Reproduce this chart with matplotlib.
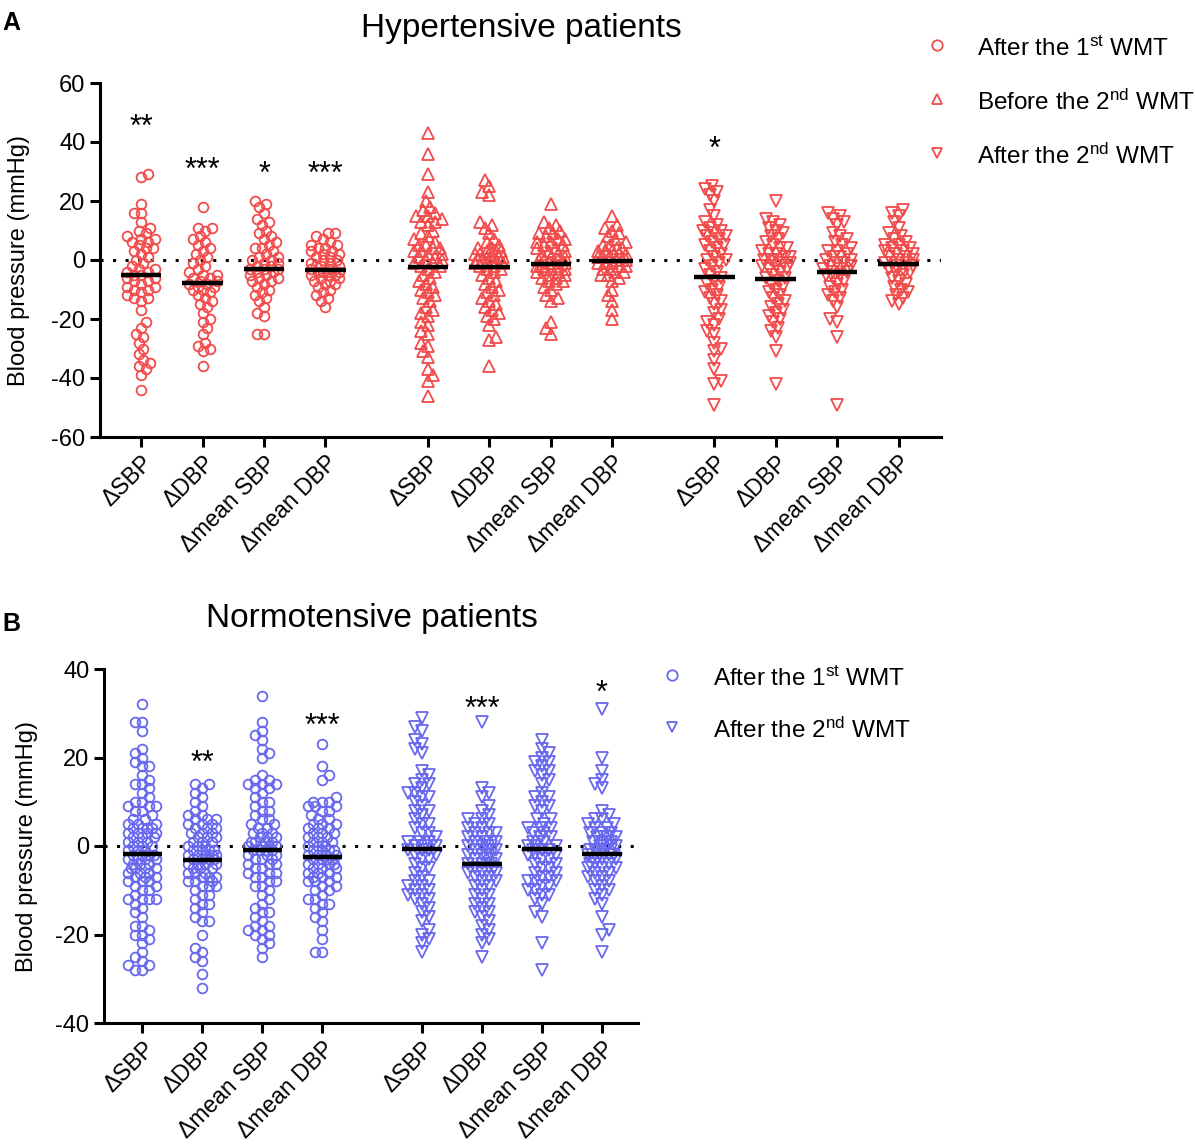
import numpy as np
import matplotlib
matplotlib.use("Agg")
from matplotlib import pyplot as plt
from matplotlib.lines import Line2D

plt.rcParams['font.family'] = ['Liberation Sans', 'DejaVu Sans']
plt.rcParams['mathtext.fontset'] = 'custom'
plt.rcParams['mathtext.rm'] = 'Liberation Sans'
plt.rcParams['mathtext.it'] = 'Liberation Sans:italic'
plt.rcParams['axes.unicode_minus'] = False

RED = '#F24B4B'
BLUE = '#6868EE'

tick_names = ["ΔSBP", "ΔDBP", "Δmean SBP", "Δmean DBP"]

# ---- panel A : hypertensive patients ----
hyp_after1 = [
    [29, 28, 19, 16, 16, 13, 11, 10, 9, 8, 7, 7, 6, 6, 5, 4, 4, 3, 2, 1, 0, -1, -2, -3, -3, -4, -4, -5, -5,
     -6, -6, -7, -7, -8, -9, -9, -10, -10, -11, -12, -13, -13, -14, -17, -21, -23, -25, -26, -28, -30, -32,
     -34, -35, -36, -37, -39, -44],
    [18, 11, 11, 10, 8, 7, 6, 5, 4, 3, 2, 1, 0, -1, -2, -3, -4, -5, -5, -6, -6, -7, -7, -8, -8, -9, -9, -10,
     -10, -11, -12, -13, -14, -15, -16, -18, -20, -21, -23, -25, -28, -29, -30, -31, -36],
    [20, 19, 18, 16, 14, 13, 12, 10, 9, 8, 7, 6, 5, 4, 4, 3, 2, 1, 1, 0, 0, -1, -1, -2, -2, -3, -3, -3, -4,
     -4, -5, -5, -6, -6, -7, -7, -8, -9, -10, -11, -12, -13, -14, -16, -18, -19, -25, -25],
    [9, 9, 8, 7, 6, 5, 5, 4, 4, 3, 3, 2, 2, 1, 1, 0, 0, -1, -1, -2, -2, -2, -3, -3, -3, -4, -4, -4, -5, -5,
     -5, -6, -6, -7, -7, -8, -8, -9, -10, -11, -12, -13, -14, -16],
]
hyp_before2 = [
    [43, 36, 29, 23, 20, 18, 17, 16, 15, 15, 14, 13, 13, 12, 10, 9, 8, 7, 6, 5, 5, 4, 4, 3, 3, 2, 2, 1, 1,
     0, 0, -1, -1, -2, -2, -3, -4, -5, -6, -7, -8, -9, -10, -11, -12, -13, -14, -16, -17, -18, -19, -21,
     -22, -24, -25, -28, -29, -31, -33, -37, -39, -41, -46],
    [27, 25, 23, 22, 13, 12, 11, 9, 7, 6, 5, 4, 4, 3, 3, 3, 2, 2, 2, 1, 1, 1, 0, 0, 0, 0, -1, -1, -1, -2,
     -2, -3, -3, -4, -5, -6, -7, -8, -9, -10, -11, -12, -13, -14, -15, -16, -17, -18, -19, -20, -22, -26,
     -27, -36],
    [19, 13, 12, 11, 10, 9, 9, 8, 7, 7, 6, 6, 5, 5, 4, 4, 3, 3, 2, 2, 1, 1, 0, 0, 0, -1, -1, -1, -2, -2,
     -2, -3, -3, -3, -4, -4, -5, -5, -6, -6, -7, -7, -8, -9, -10, -12, -13, -14, -21, -23, -25],
    [15, 12, 11, 10, 9, 8, 7, 6, 5, 5, 4, 4, 3, 3, 3, 2, 2, 1, 1, 1, 0, 0, 0, -1, -1, -1, -2, -2, -3, -3,
     -4, -4, -5, -5, -6, -7, -10, -12, -14, -17, -20],
]
hyp_after2 = [
    [25, 24, 23, 22, 20, 17, 15, 13, 12, 11, 10, 10, 9, 8, 8, 7, 6, 5, 5, 4, 3, 2, 1, 0, 0, -1, -2, -3, -4,
     -5, -6, -7, -8, -9, -10, -11, -12, -13, -14, -15, -17, -18, -20, -21, -22, -24, -25, -28, -30, -31,
     -34, -37, -41, -42, -49],
    [20, 14, 13, 12, 11, 10, 9, 8, 7, 6, 5, 4, 4, 3, 2, 2, 1, 1, 0, 0, 0, -1, -1, -2, -2, -3, -3, -4, -5,
     -6, -6, -7, -8, -9, -10, -11, -12, -13, -14, -15, -16, -17, -18, -19, -20, -21, -23, -24, -26, -31,
     -42],
    [16, 15, 14, 13, 12, 9, 8, 7, 6, 5, 4, 3, 3, 2, 1, 1, 0, 0, -1, -1, -2, -2, -3, -3, -4, -4, -5, -5, -6,
     -7, -8, -9, -10, -11, -12, -13, -14, -16, -20, -21, -26, -49],
    [17, 16, 15, 13, 11, 9, 8, 7, 6, 5, 5, 4, 4, 3, 3, 2, 2, 1, 1, 0, 0, -1, -1, -1, -2, -2, -3, -3, -4,
     -4, -5, -6, -7, -8, -9, -10, -11, -12, -13, -14, -15],
]
hyp_medians = [-5.2, -7.9, -2.9, -3.4, -2.4, -2.5, -1.2, -0.3, -5.6, -6.3, -4.1, -1.2]
hyp_stars = ["**", "***", "*", "***", "", "", "", "", "*", "", "", ""]
hyp_star_y = [44.8, 30.3, 28.8, 28.8, 0, 0, 0, 0, 37.3, 0, 0, 0]

# ---- panel B : normotensive patients ----
nor_after1 = [
    [32, 28, 28, 26, 22, 21, 20, 19, 18, 18, 16, 15, 14, 14, 13, 12, 11, 10, 10, 9, 9, 9, 8, 8, 7, 6, 6, 5,
     5, 5, 4, 4, 4, 4, 3, 3, 3, 3, 2, 2, 2, 1, 1, 1, 0, 0, 0, -1, -1, -1, -2, -2, -2, -2, -3, -3, -3, -3,
     -4, -4, -4, -5, -5, -5, -5, -6, -6, -6, -7, -7, -7, -8, -8, -8, -9, -9, -10, -10, -11, -12, -12, -12,
     -12, -13, -14, -15, -16, -18, -18, -19, -20, -20, -21, -22, -24, -25, -26, -27, -27, -28, -28],
    [14, 14, 13, 12, 11, 10, 9, 8, 7, 7, 6, 6, 6, 5, 5, 5, 4, 4, 4, 3, 3, 3, 2, 2, 2, 1, 1, 1, 0, 0, 0, -1,
     -1, -1, -1, -2, -2, -2, -2, -2, -3, -3, -3, -3, -4, -4, -4, -4, -5, -5, -5, -6, -6, -6, -7, -7, -7, -8,
     -8, -8, -9, -9, -9, -10, -11, -11, -12, -13, -13, -14, -15, -16, -17, -17, -20, -23, -24, -25, -26,
     -29, -32],
    [34, 28, 26, 25, 24, 22, 21, 20, 16, 15, 15, 14, 14, 14, 13, 13, 12, 11, 10, 10, 9, 8, 8, 7, 6, 6, 5, 5,
     4, 4, 3, 3, 3, 2, 2, 2, 1, 1, 1, 1, 0, 0, 0, 0, -1, -1, -1, -1, -2, -2, -2, -3, -3, -3, -4, -4, -4, -5,
     -5, -6, -6, -6, -7, -7, -8, -8, -9, -9, -10, -11, -12, -13, -14, -15, -15, -16, -17, -18, -18, -19,
     -19, -20, -20, -21, -22, -23, -25],
    [23, 18, 16, 15, 11, 10, 10, 10, 9, 9, 9, 8, 8, 7, 6, 6, 5, 5, 5, 4, 4, 4, 3, 3, 3, 2, 2, 2, 1, 1, 1, 0,
     0, 0, -1, -1, -1, -1, -2, -2, -2, -2, -3, -3, -3, -3, -4, -4, -4, -4, -5, -5, -5, -6, -6, -6, -7, -7,
     -7, -8, -8, -8, -9, -9, -10, -10, -11, -12, -12, -13, -13, -14, -15, -16, -17, -19, -21, -24, -24],
]
nor_after2 = [
    [29, 27, 26, 24, 23, 22, 21, 17, 16, 15, 14, 14, 13, 12, 12, 11, 11, 10, 9, 8, 8, 7, 6, 5, 5, 4, 3, 3,
     2, 1, 1, 1, 0, 0, 0, -1, -1, -1, -2, -2, -3, -3, -4, -5, -5, -6, -7, -8, -8, -9, -9, -10, -10, -11,
     -11, -12, -12, -13, -14, -15, -16, -17, -19, -20, -21, -22, -24],
    [28, 13, 12, 11, 9, 8, 7, 6, 6, 5, 5, 4, 4, 3, 3, 3, 2, 2, 1, 1, 1, 0, 0, 0, -1, -1, -1, -2, -2, -2, -3,
     -3, -3, -4, -4, -4, -5, -5, -5, -6, -6, -6, -7, -7, -8, -8, -9, -9, -10, -11, -11, -12, -13, -13, -14,
     -15, -15, -16, -17, -18, -19, -20, -21, -22, -25],
    [24, 22, 21, 20, 19, 19, 18, 17, 17, 16, 15, 14, 12, 11, 11, 10, 9, 9, 8, 6, 6, 5, 4, 4, 4, 3, 3, 2, 2,
     1, 1, 0, 0, 0, -1, -1, -1, -2, -2, -2, -3, -3, -4, -4, -5, -5, -6, -6, -7, -7, -8, -8, -8, -9, -9,
     -10, -10, -11, -11, -12, -13, -15, -16, -22, -28],
    [31, 20, 17, 15, 14, 13, 8, 7, 6, 6, 5, 5, 4, 4, 3, 3, 3, 2, 2, 2, 1, 1, 1, 0, 0, 0, -1, -1, -1, -1, -2,
     -2, -2, -2, -3, -3, -3, -3, -4, -4, -4, -5, -5, -5, -6, -6, -7, -7, -8, -8, -9, -10, -10, -11, -12,
     -13, -16, -19, -20, -24],
]
nor_medians = [-1.9, -3.2, -1.0, -2.5, -0.6, -4.0, -0.6, -1.7]
nor_stars = ["", "**", "", "***", "", "***", "", "*"]
nor_star_y = [0, 18.6, 0, 27.0, 0, 30.8, 0, 34.4]

W, H = 1195, 1145
fig = plt.figure(figsize=(W / 100, H / 100), dpi=100)


def swarm_offsets(values, px_x, px_y, d=7.0, maxw=16.0):
    """beeswarm with a capped half width (pixels); crowded points overlap"""
    placed = []
    offs = np.zeros(len(values))
    step = d / 3.0
    nsteps = int(maxw / step)
    order = np.argsort(values)
    for n, i in enumerate(order):
        y = values[i] * px_y
        near = [(px, py) for px, py in placed if abs(py - y) < d]
        sign = 1 if n % 2 == 0 else -1
        best, best_gap = 0.0, -1.0
        chosen = None
        for k in range(0, nsteps + 1):
            cands = [0.0] if k == 0 else [sign * k * step, -sign * k * step]
            for c in cands:
                gap = min([np.hypot(c - px, y - py) for px, py in near] + [99.0])
                if gap >= d:
                    chosen = c
                    break
                if gap > best_gap:
                    best, best_gap = c, gap
            if chosen is not None:
                break
        if chosen is None:
            chosen = best
        placed.append((chosen, y))
        offs[i] = chosen / px_x
    return offs


def draw_panel(rect, groups, markers, color, xpos, xlim, ylim, medians, stars, star_y, maxw):
    ax = fig.add_axes(rect)
    ax.set_xlim(*xlim)
    ax.set_ylim(*ylim)
    px_x = rect[2] * W / (xlim[1] - xlim[0])
    px_y = rect[3] * H / (ylim[1] - ylim[0])
    ax.axhline(0, color='black', lw=2.2, linestyle=(0, (1, 3.1)), zorder=1)
    for i, vals in enumerate(groups):
        vals = np.array(vals, dtype=float)
        offs = swarm_offsets(vals, px_x, px_y, maxw=maxw)
        ms = 7.0 if markers[i] == 'o' else 8.2
        ax.plot(xpos[i] + offs, vals, linestyle='none', marker=markers[i], ms=ms,
                mfc='none', mec=color, mew=1.3, zorder=2)
        ax.plot([xpos[i] - 0.33, xpos[i] + 0.33], [medians[i], medians[i]],
                color='black', lw=3.2, solid_capstyle='butt', zorder=3)
        if stars[i]:
            ax.text(xpos[i], star_y[i], stars[i], ha='center', va='center', fontsize=22)
    for s in ['top', 'right']:
        ax.spines[s].set_visible(False)
    for s in ['left', 'bottom']:
        ax.spines[s].set_linewidth(2.2)
    ax.tick_params(width=2.2, length=7, labelsize=17)
    ax.set_xticks(xpos)
    ax.set_xticklabels(tick_names * (len(xpos) // 4), rotation=45, ha='right',
                       rotation_mode='anchor', fontsize=16.5)
    ax.set_ylabel("Blood pressure (mmHg)", fontsize=17)
    return ax


# panel A
xa = [0, 1, 2, 3, 4.67, 5.67, 6.67, 7.67, 9.33, 10.33, 11.33, 12.33]
ga = hyp_after1 + hyp_before2 + hyp_after2
ma = ['o'] * 4 + ['^'] * 4 + ['v'] * 4
axA = draw_panel([100 / W, 1 - 437 / H, 841 / W, 354 / H], ga, ma, RED, xa,
                 (-0.67, 13.02), (-60, 60), hyp_medians, hyp_stars, hyp_star_y, 16.0)
axA.set_yticks(np.arange(-60, 61, 20))
axA.yaxis.set_label_coords(-0.083, 0.5)

# panel B
xb = [0, 1, 2, 3, 4.66, 5.66, 6.66, 7.66]
gb = nor_after1 + nor_after2
mb = ['o'] * 4 + ['v'] * 4
axB = draw_panel([104 / W, 1 - 1023 / H, 534 / W, 354 / H], gb, mb, BLUE, xb,
                 (-0.64, 8.26), (-40, 40), nor_medians, nor_stars, nor_star_y, 15.0)
axB.set_yticks(np.arange(-40, 41, 20))
axB.yaxis.set_label_coords(-0.124, 0.5)

# titles and panel letters
fig.text(521 / W, 1 - 37 / H, "Hypertensive patients", ha='center', va='baseline', fontsize=24)
fig.text(372 / W, 1 - 627 / H, "Normotensive patients", ha='center', va='baseline', fontsize=24)
fig.text(2 / W, 1 - 30 / H, "A", fontsize=18, fontweight='bold', va='baseline')
fig.text(2 / W, 1 - 631 / H, "B", fontsize=18, fontweight='bold', va='baseline')

# legends
leg_a = [("o", "After the 1$^{\\mathrm{st}}$ WMT"),
         ("^", "Before the 2$^{\\mathrm{nd}}$ WMT"),
         ("v", "After the 2$^{\\mathrm{nd}}$ WMT")]
for k, (m, lab) in enumerate(leg_a):
    y = 45 + 54 * k
    fig.add_artist(Line2D([937 / W], [1 - y / H], transform=fig.transFigure, marker=m, ms=7.5,
                          mfc='none', mec=RED, mew=1.3, linestyle='none'))
    fig.text(977 / W, 1 - (y + 11) / H, lab, fontsize=17.5, va='baseline')

leg_b = [("o", "After the 1$^{\\mathrm{st}}$ WMT"),
         ("v", "After the 2$^{\\mathrm{nd}}$ WMT")]
for k, (m, lab) in enumerate(leg_b):
    y = 675 + 52 * k
    fig.add_artist(Line2D([672 / W], [1 - y / H], transform=fig.transFigure, marker=m, ms=7.5,
                          mfc='none', mec=BLUE, mew=1.3, linestyle='none'))
    fig.text(713 / W, 1 - (y + 11) / H, lab, fontsize=17.5, va='baseline')

fig.savefig("out.png", dpi=100)
